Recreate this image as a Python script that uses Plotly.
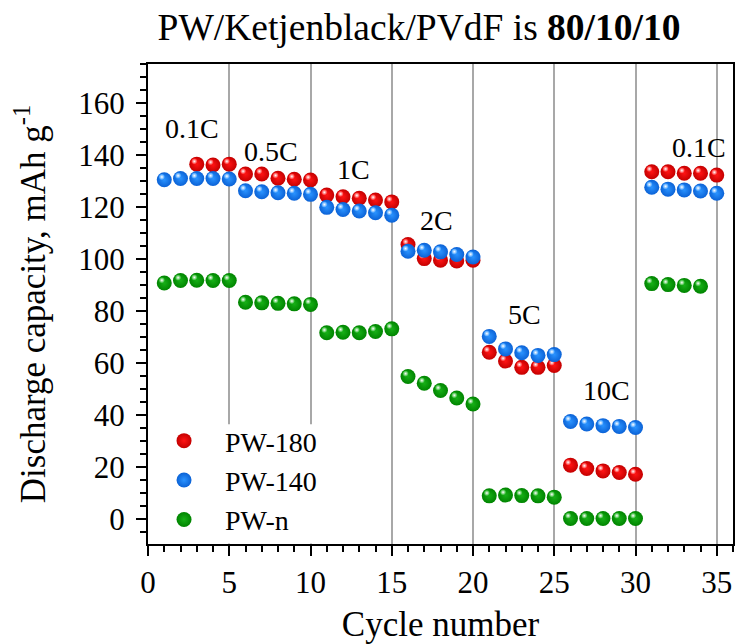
import plotly.graph_objects as go

# ---------------- data ----------------
cycles = list(range(1, 36))
pw180 = [None, None, 136.5, 136.2, 136.5,
         132.7, 132.7, 131.1, 130.7, 130.4,
         124.6, 124.0, 123.4, 122.7, 122.0,
         105.6, 100.2, 99.6, 99.3, 99.6,
         64.2, 60.8, 58.4, 58.4, 59.1,
         20.8, 19.5, 18.6, 18.0, 17.3,
         133.6, 133.6, 133.0, 133.0, 132.3]
pw140 = [130.5, 131.0, 131.0, 131.0, 130.8,
         126.3, 125.9, 125.5, 125.3, 124.9,
         119.9, 119.1, 118.5, 117.8, 116.9,
         103.0, 103.4, 102.8, 101.8, 100.8,
         70.3, 65.5, 64.0, 63.0, 63.3,
         37.6, 36.6, 36.0, 35.7, 35.3,
         127.6, 126.9, 126.6, 126.2, 125.3]
pwn = [90.8, 91.8, 91.9, 91.8, 91.8,
       83.4, 83.2, 83.0, 82.8, 82.6,
       71.7, 71.9, 71.7, 72.2, 73.2,
       54.9, 52.3, 49.5, 46.6, 44.3,
       9.0, 9.3, 9.1, 9.0, 8.5,
       0.3, 0.3, 0.3, 0.3, 0.3,
       90.6, 90.2, 89.9, 89.6, None]
series_names = ["PW-180", "PW-140", "PW-n"]
rate_labels = ["0.1C", "0.5C", "1C", "2C", "5C", "10C", "0.1C"]
x_ticks = [0, 5, 10, 15, 20, 25, 30, 35]
y_ticks = [0, 20, 40, 60, 80, 100, 120, 140, 160]

# ---------------- style ----------------
FONT = "Liberation Serif"
main_cols = ["#ff1414", "#2a93ff", "#17b017"]
edge_cols = ["#c40000", "#0b62d6", "#008400"]
label_pos = [(2.73, 150.3), (7.55, 141.3), (12.64, 134.3), (17.77, 114.8),
             (23.18, 78.7), (28.2, 49.6), (33.9, 142.8)]

XR = [0, 36]
YR = [-9.5, 175]
W, H = 736, 644
ML, MR, MT, MB = 148, 1, 64, 100
px_x = (W - ML - MR) / (XR[1] - XR[0])
px_y = (H - MT - MB) / (YR[1] - YR[0])
dx = 2.4 / px_x   # highlight offset (left)
dy = 2.8 / px_y   # highlight offset (up)

fig = go.Figure()
all_series = [pw180, pw140, pwn]
for i, (name, vals) in enumerate(zip(series_names, all_series)):
    bx = "x" if i == 0 else f"x{2*i+1}"
    by = "y" if i == 0 else f"y{2*i+1}"
    hx = f"x{2*i+2}"
    hy = f"y{2*i+2}"
    fig.add_trace(go.Scatter(
        x=cycles, y=vals, mode="markers", name=name,
        xaxis=bx, yaxis=by,
        marker=dict(size=15, color=edge_cols[i], line=dict(width=0),
                    gradient=dict(type="radial", color=main_cols[i])),
    ))
    fig.add_trace(go.Scatter(
        x=cycles, y=vals, mode="markers", showlegend=False, hoverinfo="skip",
        xaxis=hx, yaxis=hy,
        marker=dict(size=6, color=main_cols[i], line=dict(width=0),
                    gradient=dict(type="radial", color="#ffffff")),
    ))

axis_common = dict(
    showline=True, linecolor="black", linewidth=2, mirror=True,
    ticks="outside", ticklen=10, tickwidth=2, tickcolor="black",
    tickfont=dict(family=FONT, size=31, color="black"),
    zeroline=False,
)

layout = dict(
    width=W, height=H,
    margin=dict(l=ML, r=MR, t=MT, b=MB, pad=0),
    plot_bgcolor="white", paper_bgcolor="white",
    font=dict(family=FONT, color="black"),
    title=dict(text="PW/Ketjenblack/PVdF is <b>80/10/10</b>",
               x=419 / W, xref="container", xanchor="center",
               y=1 - 27 / H, yref="container", yanchor="middle",
               font=dict(family=FONT, size=37.5, color="black")),
    xaxis=dict(range=XR, tickvals=x_ticks, showgrid=True,
               gridcolor="#a8a8a8", gridwidth=1.5,
               minor=dict(dtick=1, tick0=0, ticks="outside", ticklen=6,
                          tickwidth=1.5, tickcolor="black", showgrid=False),
               title=dict(text="Cycle number", standoff=12,
                          font=dict(family=FONT, size=35, color="black")),
               **axis_common),
    yaxis=dict(range=YR, tickvals=y_ticks, showgrid=False,
               ticklabelstandoff=5,
               minor=dict(dtick=5, tick0=0, ticks="outside", ticklen=6,
                          tickwidth=1.5, tickcolor="black", showgrid=False),
               title=dict(text="Discharge capacity, mAh g<sup>-1</sup>", standoff=22,
                          font=dict(family=FONT, size=35, color="black")),
               **axis_common),
    legend=dict(x=-0.0085, xanchor="left", y=-0.002, yanchor="bottom",
                bgcolor="rgba(0,0,0,0)", borderwidth=0, itemwidth=72,
                font=dict(family=FONT, size=28, color="black"),
                tracegroupgap=0),
    showlegend=True,
)
for i in range(3):
    for k in (2 * i + 1, 2 * i + 2):
        if k == 1:
            continue
        hl = (k % 2 == 0)
        layout[f"xaxis{k}"] = dict(overlaying="x", visible=False,
                                   range=[XR[0] + dx, XR[1] + dx] if hl else XR)
        layout[f"yaxis{k}"] = dict(overlaying="y", visible=False,
                                   range=[YR[0] - dy, YR[1] - dy] if hl else YR)

fig.update_layout(**layout)

# white panel behind the legend that hides the gridlines there
fig.add_shape(type="rect", xref="x", yref="y", x0=0.05, x1=13.0, y0=-9.3, y1=36.5,
              fillcolor="white", line=dict(width=0), layer="between")

for txt, (lx, ly) in zip(rate_labels, label_pos):
    fig.add_annotation(x=lx, y=ly, xref="x", yref="y", text=txt, showarrow=False,
                       font=dict(family=FONT, size=28, color="black"))

fig.write_html("out.html")
